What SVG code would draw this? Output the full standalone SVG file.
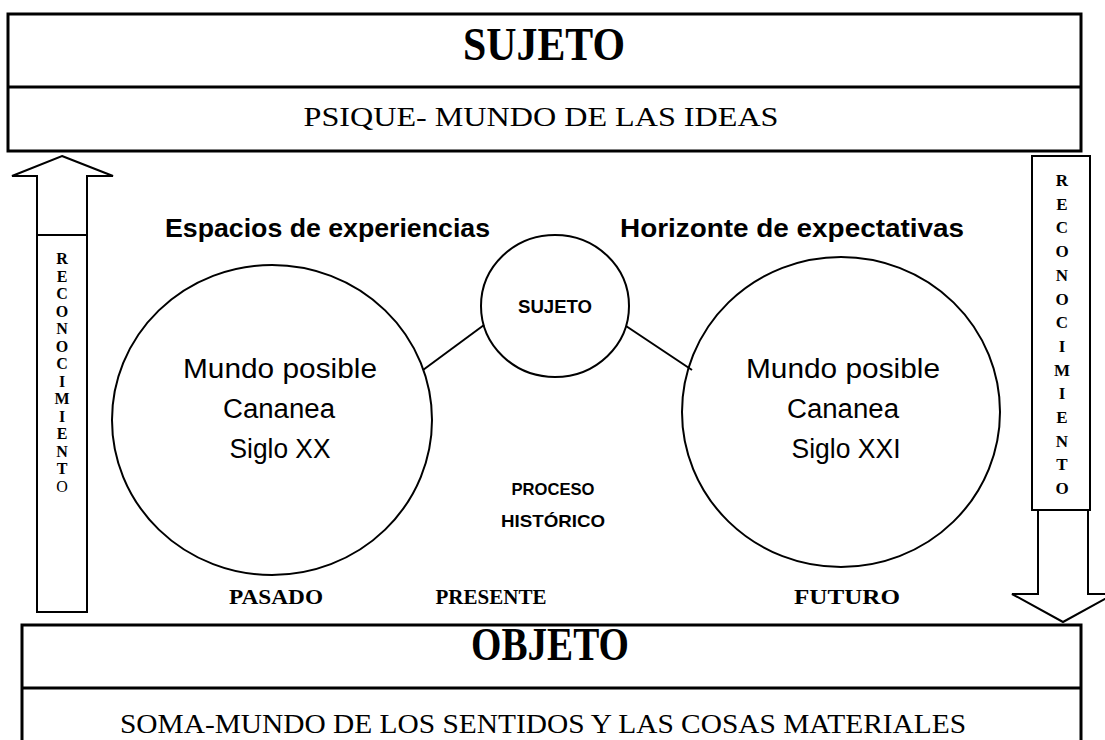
<svg xmlns="http://www.w3.org/2000/svg" width="1105" height="740" viewBox="0 0 1105 740">
<style>
.box{fill:#fff;stroke:#000;stroke-width:3}
.ln{fill:none;stroke:#000;stroke-width:2}
.shape{fill:#fff;stroke:#000;stroke-width:2}
.serif{font-family:"Liberation Serif","Times New Roman",serif;fill:#000}
.sans{font-family:"Liberation Sans",Arial,sans-serif;fill:#000}
.b{font-weight:bold}
.c{text-anchor:middle}
</style>
<rect width="1105" height="740" fill="#fff"/>
<g id="sujeto-box">
<rect class="box" x="8" y="14" width="1073" height="137"/>
<line class="box" x1="8" y1="87" x2="1081" y2="87"/>
<text class="serif b c" x="544" y="60" font-size="46" textLength="162" lengthAdjust="spacingAndGlyphs">SUJETO</text>
<text class="serif c" x="541" y="126" font-size="28" textLength="475" lengthAdjust="spacingAndGlyphs">PSIQUE- MUNDO DE LAS IDEAS</text>
</g>
<g id="objeto-box">
<rect class="box" x="22" y="625" width="1059" height="130"/>
<line class="box" x1="22" y1="688" x2="1081" y2="688"/>
<text class="serif b c" x="550" y="660" font-size="46" textLength="158" lengthAdjust="spacingAndGlyphs">OBJETO</text>
<text class="serif c" x="543" y="733" font-size="28" textLength="846" lengthAdjust="spacingAndGlyphs">SOMA-MUNDO DE LOS SENTIDOS Y LAS COSAS MATERIALES</text>
</g>
<g id="arrow-up">
<polygon class="shape" points="62,156 113,176 87,176 87,612 37,612 37,176 12,176"/>
<line class="ln" x1="37" y1="235" x2="87" y2="235"/>
<g class="serif b c" font-size="16">
<text x="62" y="264">R</text><text x="62" y="281.5">E</text><text x="62" y="299">C</text><text x="62" y="316.5">O</text><text x="62" y="334">N</text><text x="62" y="351.5">O</text><text x="62" y="369">C</text><text x="62" y="386.5">I</text><text x="62" y="404">M</text><text x="62" y="421.5">I</text><text x="62" y="439">E</text><text x="62" y="456.5">N</text><text x="62" y="474">T</text>
</g>
<text class="serif c" x="62" y="491.5" font-size="16">O</text>
</g>
<g id="arrow-down">
<polygon class="shape" points="1038,500 1088,500 1088,594 1114,594 1063,622 1012,594 1038,594"/>
<rect class="shape" x="1032" y="156" width="58" height="354"/>
<g class="serif b c" font-size="17">
<text x="1062" y="186">R</text><text x="1062" y="209.7">E</text><text x="1062" y="233.4">C</text><text x="1062" y="257.1">O</text><text x="1062" y="280.8">N</text><text x="1062" y="304.5">O</text><text x="1062" y="328.2">C</text><text x="1062" y="351.9">I</text><text x="1062" y="375.6">M</text><text x="1062" y="399.3">I</text><text x="1062" y="423">E</text><text x="1062" y="446.7">N</text><text x="1062" y="470.4">T</text><text x="1062" y="494.1">O</text>
</g>
</g>
<g id="connectors">
<line class="ln" x1="484" y1="325" x2="423" y2="370"/>
<line class="ln" x1="626" y1="326" x2="692" y2="370"/>
</g>
<g id="heading-left">
<text class="sans b" x="165" y="237" font-size="25" textLength="325" lengthAdjust="spacingAndGlyphs">Espacios de experiencias</text>
</g>
<g id="heading-right">
<text class="sans b" x="620" y="237" font-size="25" textLength="344" lengthAdjust="spacingAndGlyphs">Horizonte de expectativas</text>
</g>
<g id="sujeto-circle">
<ellipse class="ln" cx="555" cy="306" rx="74" ry="71"/>
<text class="sans b c" x="555" y="313" font-size="18" textLength="74" lengthAdjust="spacingAndGlyphs">SUJETO</text>
</g>
<g id="pasado-circle">
<ellipse class="ln" cx="272" cy="420" rx="160" ry="155"/>
<text class="sans c" x="280" y="378" font-size="27" textLength="194" lengthAdjust="spacingAndGlyphs">Mundo posible</text>
<text class="sans c" x="279" y="418" font-size="27" textLength="112" lengthAdjust="spacingAndGlyphs">Cananea</text>
<text class="sans c" x="280" y="458" font-size="27" textLength="101" lengthAdjust="spacingAndGlyphs">Siglo XX</text>
</g>
<g id="futuro-circle">
<ellipse class="ln" cx="841" cy="412" rx="159" ry="155"/>
<text class="sans c" x="843" y="378" font-size="27" textLength="194" lengthAdjust="spacingAndGlyphs">Mundo posible</text>
<text class="sans c" x="843" y="418" font-size="27" textLength="112" lengthAdjust="spacingAndGlyphs">Cananea</text>
<text class="sans c" x="846" y="458" font-size="27" textLength="109" lengthAdjust="spacingAndGlyphs">Siglo XXI</text>
</g>
<g id="proceso">
<text class="sans b c" x="553" y="495" font-size="17" textLength="83" lengthAdjust="spacingAndGlyphs">PROCESO</text>
<text class="sans b c" x="553" y="527" font-size="17" textLength="104" lengthAdjust="spacingAndGlyphs">HISTÓRICO</text>
</g>
<g id="time-labels">
<text class="serif b c" x="276" y="604" font-size="20" textLength="94" lengthAdjust="spacingAndGlyphs">PASADO</text>
<text class="serif b c" x="491" y="604" font-size="20" textLength="111" lengthAdjust="spacingAndGlyphs">PRESENTE</text>
<text class="serif b c" x="847" y="604" font-size="20" textLength="106" lengthAdjust="spacingAndGlyphs">FUTURO</text>
</g>
</svg>
